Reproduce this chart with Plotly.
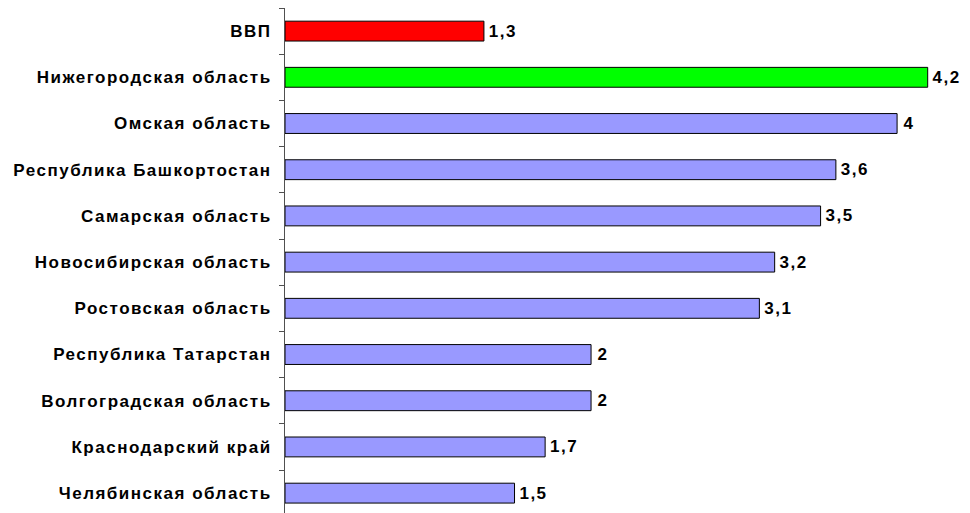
import plotly.graph_objects as go

categories = ["ВВП", "Нижегородская область", "Омская область", "Республика Башкортостан",
              "Самарская область", "Новосибирская область", "Ростовская область",
              "Республика Татарстан", "Волгоградская область", "Краснодарский край",
              "Челябинская область"]
values = [1.3, 4.2, 4.0, 3.6, 3.5, 3.2, 3.1, 2.0, 2.0, 1.7, 1.5]
colors = ["#FF0000", "#00FF00"] + ["#9999FF"] * 9

labels = [("%g" % v).replace(".", ",") for v in values]

FONT = "Liberation Sans, Arial"

fig = go.Figure(go.Bar(
    x=values, y=categories, orientation="h",
    marker=dict(color=colors, line=dict(color="#000000", width=1)),
    text=labels, textposition="outside", cliponaxis=False,
    texttemplate="\u2009%{text}",
    textfont=dict(family=FONT, size=17, color="#000000", weight="bold"),
    width=0.43,
))

fig.update_layout(
    width=970, height=513,
    margin=dict(l=285, r=27, t=8, b=0),
    plot_bgcolor="white", paper_bgcolor="white",
    showlegend=False,
    font=dict(family=FONT, size=17, color="#000000"),
)
fig.update_xaxes(range=[0, 4.3], showticklabels=False, showgrid=False, zeroline=False,
                 showline=False, ticks="")
fig.update_yaxes(categoryorder="array", categoryarray=categories,
                 range=[10.43, -0.5], showline=True, linecolor="#505050", linewidth=1,
                 ticks="outside", tickson="boundaries", ticklen=5, tickcolor="#505050",
                 showgrid=False, ticklabelstandoff=9,
                 tickfont=dict(family=FONT, size=17, color="#000000", weight="bold"))

post = """
document.body.style.margin='0';
var st=document.createElement('style');
st.textContent='.ytick text, .bartext {letter-spacing:1.5px;}';
document.head.appendChild(st);
"""
fig.write_html("out.html", post_script=post, config={"displayModeBar": False})
